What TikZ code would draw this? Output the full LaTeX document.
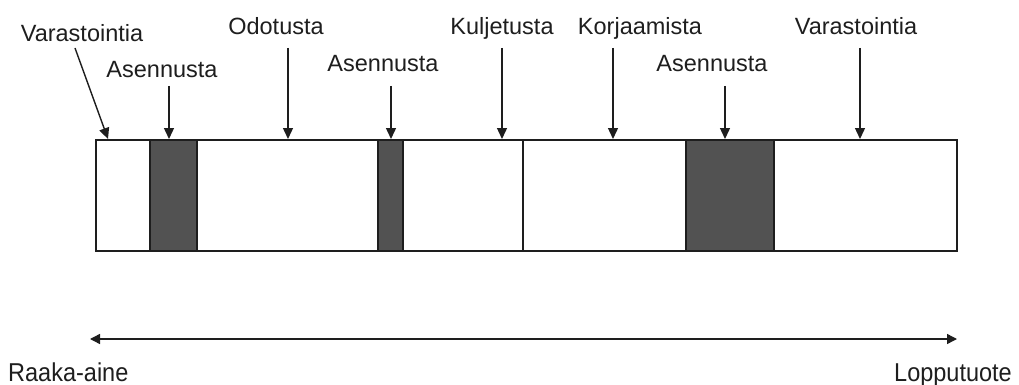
\documentclass[tikz,border=0pt]{standalone}
\usepackage{fontspec}
\setmainfont{Liberation Sans}
\usetikzlibrary{arrows.meta}
\definecolor{blockgray}{RGB}{82,82,82}
\definecolor{inkgray}{RGB}{30,30,30}
\begin{document}
\begin{tikzpicture}[x=1pt,y=-1pt,
  lbl/.style={font=\fontsize{23.5}{26}\selectfont, text=inkgray, inner sep=0pt, anchor=base},
  pointer/.style={draw=inkgray, line width=1.4pt, -{Triangle[length=11pt,width=10pt]}},
  barline/.style={draw=inkgray, line width=1.4pt},
  block/.style={barline, fill=blockgray}]
\useasboundingbox (0,0) rectangle (1019,385);

% process bar
\draw[barline, fill=white] (96,140) rectangle (957,251);
\draw[block] (150,140) rectangle (197,251);
\draw[block] (378,140) rectangle (403,251);
\draw[block] (686,140) rectangle (774,251);
\draw[barline] (523,140) -- (523,251);

% labels
\node[lbl] (var1) at (82,42) {Varastointia};
\node[lbl] (ase1) at (162,78) {Asennusta};
\node[lbl] (odo)  at (276,35) {Odotusta};
\node[lbl] (ase2) at (383,72) {Asennusta};
\node[lbl] (kul)  at (502,35) {Kuljetusta};
\node[lbl] (kor)  at (640,35) {Korjaamista};
\node[lbl] (ase3) at (712,72) {Asennusta};
\node[lbl] (var2) at (856,35) {Varastointia};

% arrow starts and targets on the bar
\coordinate (var1s) at (75,48);   \coordinate (var1t) at (108,139);
\coordinate (ase1s) at (169,86);  \coordinate (ase1t) at (169,139);
\coordinate (odos)  at (288,48);  \coordinate (odot)  at (288,139);
\coordinate (ase2s) at (391,86);  \coordinate (ase2t) at (391,139);
\coordinate (kuls)  at (502,48);  \coordinate (kult)  at (502,139);
\coordinate (kors)  at (613,48);  \coordinate (kort)  at (613,139);
\coordinate (ase3s) at (725,86);  \coordinate (ase3t) at (725,139);
\coordinate (var2s) at (860,48);  \coordinate (var2t) at (860,139);

\foreach \n in {var1,ase1,odo,ase2,kul,kor,ase3,var2}
  \draw[pointer] (\n s) -- (\n t);

% flow from raw material to finished product
\node[lbl, anchor=base west, yscale=1.1] (raw) at (8,381) {Raaka-aine};
\node[lbl, anchor=base east, yscale=1.1] (fin) at (1012,381) {Lopputuote};
\coordinate (flowl) at (90,339);
\coordinate (flowr) at (957,339);
\draw[draw=inkgray, line width=1.4pt, {Triangle[length=10pt,width=10pt]}-{Triangle[length=10pt,width=10pt]}] (flowl) -- (flowr);
\end{tikzpicture}
\end{document}
